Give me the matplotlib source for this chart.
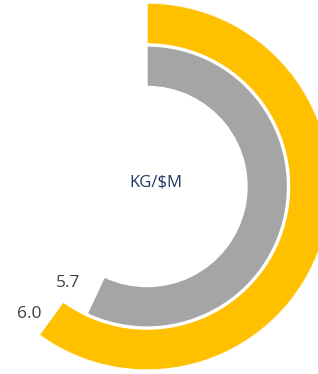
import numpy as np
import matplotlib
matplotlib.use("Agg")
import matplotlib.pyplot as plt

# -----------------------------
# Data
# -----------------------------
series = ["Outer", "Inner"]
values = [6.0, 5.7]
labels = ["6.0", "5.7"]
colors = ["#FFC000", "#A5A5A5"]
max_value = 10.0
center_label = "KG/$M"

# ring geometry (fraction of outer radius)
ring_bottom = [0.777, 0.545]
ring_height = [0.223, 0.221]
label_r = [0.947, 0.68]
label_dtheta = [6.8, 14.0]   # degrees past the bar end

# -----------------------------
# Figure
# -----------------------------
fig = plt.figure(figsize=(3.18, 3.74), dpi=100)
W, H = 318, 374
cx, cy, R = 147, 374 - 186.5, 183.5
ax = fig.add_axes([(cx - R) / W, (cy - R) / H, 2 * R / W, 2 * R / H], projection="polar")
ax.set_theta_zero_location("N")
ax.set_theta_direction(-1)
ax.set_ylim(0, 1)
ax.set_axis_off()

# polar bar: x = start angle, height = ring thickness, width = sweep
for v, b, h, c in zip(values, ring_bottom, ring_height, colors):
    ax.bar(0, h, width=v / max_value * 2 * np.pi, bottom=b,
           align="edge", color=c, edgecolor="white", linewidth=1.0)

for v, t, r, d in zip(values, labels, label_r, label_dtheta):
    th = np.deg2rad(v / max_value * 360 + d)
    ax.text(th, r, t, ha="center", va="center", fontsize=12.5,
            family="Open Sans", color="#404040")

fig.text(156 / W, 1 - 183 / H, center_label, ha="center", va="center",
         fontsize=12, family="Open Sans", color="#203864")

plt.savefig("out.png", dpi=100)
plt.close()
